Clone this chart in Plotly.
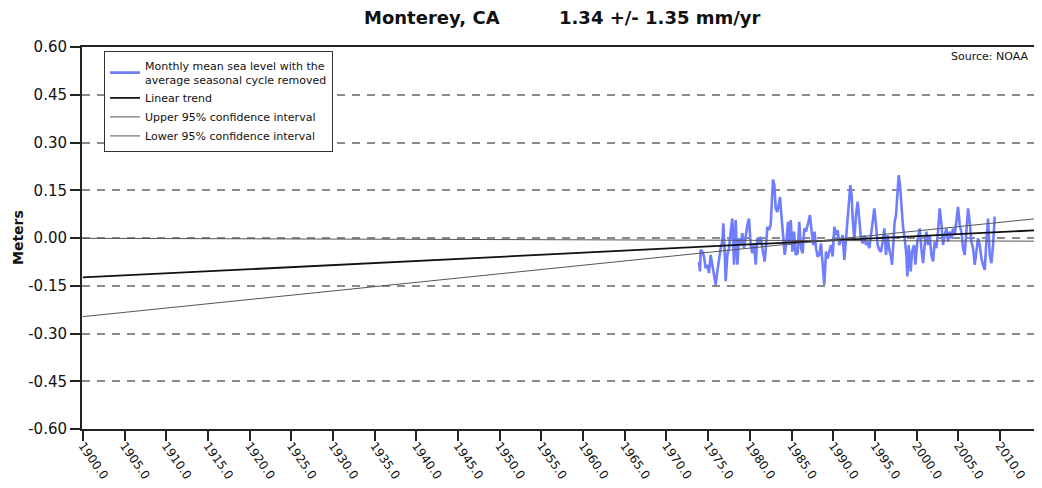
import plotly.graph_objects as go

# ---- data ----
years = [1973.90, 1974.02, 1974.10, 1974.30, 1974.50, 1974.70, 1974.90, 1975.10, 1975.30, 1975.50,
         1975.70, 1975.90, 1976.10, 1976.30, 1976.50, 1976.70, 1976.82, 1976.98, 1977.10, 1977.30,
         1977.50, 1977.70, 1977.90, 1978.10, 1978.30, 1978.50, 1978.70, 1978.90, 1979.10, 1979.30,
         1979.50, 1979.70, 1979.90, 1980.10, 1980.30, 1980.50, 1980.70, 1980.90, 1981.10, 1981.30,
         1981.50, 1981.78, 1981.94, 1982.10, 1982.30, 1982.50, 1982.66, 1982.78, 1982.94, 1983.10,
         1983.30, 1983.46, 1983.62, 1983.78, 1983.90, 1984.02, 1984.18, 1984.34, 1984.58, 1984.74,
         1984.90, 1985.10, 1985.30, 1985.50, 1985.73, 1985.93, 1986.13, 1986.33, 1986.53, 1986.73,
         1986.93, 1987.21, 1987.41, 1987.61, 1987.77, 1987.93, 1988.13, 1988.33, 1988.53, 1988.73,
         1988.93, 1989.13, 1989.33, 1989.53, 1989.73, 1989.93, 1990.13, 1990.33, 1990.53, 1990.73,
         1990.93, 1991.13, 1991.33, 1991.53, 1991.73, 1991.93, 1992.05, 1992.21, 1992.33, 1992.53,
         1992.73, 1992.93, 1993.13, 1993.33, 1993.53, 1993.73, 1993.93, 1994.13, 1994.33, 1994.53,
         1994.73, 1994.93, 1995.13, 1995.33, 1995.53, 1995.73, 1995.93, 1996.13, 1996.33, 1996.53,
         1996.73, 1996.93, 1997.05, 1997.21, 1997.37, 1997.53, 1997.69, 1997.85, 1998.01, 1998.17,
         1998.37, 1998.57, 1998.77, 1998.89, 1999.05, 1999.29, 1999.45, 1999.69, 1999.85, 2000.09,
         2000.37, 2000.57, 2000.77, 2000.97, 2001.17, 2001.37, 2001.57, 2001.77, 2001.97, 2002.17,
         2002.37, 2002.57, 2002.77, 2002.97, 2003.17, 2003.37, 2003.57, 2003.77, 2003.97, 2004.17,
         2004.37, 2004.57, 2004.77, 2004.97, 2005.17, 2005.37, 2005.57, 2005.77, 2005.97, 2006.17,
         2006.37, 2006.57, 2006.77, 2006.97, 2007.17, 2007.37, 2007.57, 2007.77, 2007.97, 2008.17,
         2008.37, 2008.57, 2008.77, 2008.97, 2009.17, 2009.37]

sea_level = [-0.074, -0.105, -0.037, -0.043, -0.058, -0.095, -0.084, -0.110, -0.053, -0.084,
             -0.116, -0.147, -0.105, -0.064, -0.032, -0.011, 0.046, -0.043, -0.136, -0.053,
             -0.032, 0.020, 0.061, -0.084, 0.056, -0.084, -0.001, -0.022, 0.015, -0.032,
             0.009, 0.041, 0.061, -0.022, -0.048, -0.017, -0.084, -0.001, -0.017, 0.004,
             -0.032, -0.074, -0.022, 0.035, 0.025, 0.041, 0.124, 0.184, 0.166, 0.093,
             0.082, 0.103, 0.129, 0.072, 0.020, -0.001, -0.053, -0.022, 0.051, -0.022,
             0.056, -0.043, 0.020, -0.053, -0.048, 0.051, -0.032, -0.048, 0.030, 0.020,
             0.041, 0.072, 0.020, -0.022, 0.020, -0.032, -0.058, -0.053, -0.017, -0.084,
             -0.147, -0.043, -0.064, -0.043, -0.022, -0.058, 0.035, 0.009, 0.025, -0.022,
             -0.006, 0.009, -0.069, -0.006, 0.061, 0.124, 0.166, 0.134, 0.061, -0.006,
             0.072, 0.114, 0.061, -0.001, -0.017, 0.009, -0.022, -0.011, -0.032, 0.009,
             0.051, 0.093, 0.041, -0.022, -0.038, -0.043, -0.011, 0.030, -0.053, 0.009,
             -0.038, -0.058, -0.084, -0.011, 0.051, 0.072, 0.145, 0.197, 0.166, 0.093,
             0.035, -0.001, -0.053, -0.121, -0.022, -0.105, -0.043, -0.022, -0.084, -0.011,
             0.030, -0.032, -0.079, -0.022, 0.020, -0.022, 0.009, -0.053, -0.074, -0.011,
             -0.032, 0.020, 0.093, 0.046, -0.022, 0.009, 0.030, -0.011, 0.020, -0.001,
             0.030, 0.009, 0.061, 0.098, 0.041, 0.020, -0.032, -0.053, 0.020, 0.093,
             0.051, -0.011, -0.032, -0.084, -0.043, -0.001, -0.022, -0.064, -0.084, -0.100,
             -0.011, 0.061, -0.053, -0.079, -0.022, 0.067]

line_years = [1900.0, 2014.8]
trend = [-0.124, 0.025]
upper_ci = [-0.247, 0.062]
lower_ci = [-0.001, -0.010]

y_ticks = [-0.60, -0.45, -0.30, -0.15, 0.00, 0.15, 0.30, 0.45, 0.60]
y_tick_labels = ["-0.60", "-0.45", "-0.30", "-0.15", "0.00", "0.15", "0.30", "0.45", "0.60"]
x_ticks = list(range(1900, 2011, 5))
x_tick_labels = [f"{v}.0" for v in x_ticks]

FONT = "DejaVu Sans"

fig = go.Figure()
fig.add_trace(go.Scatter(
    x=years, y=sea_level, mode="lines",
    line=dict(color="#6f7dff", width=2.6),
    name="Monthly mean sea level with the<br>average seasonal cycle removed"))
fig.add_trace(go.Scatter(x=line_years, y=trend, mode="lines",
                         line=dict(color="#111111", width=1.8), name="Linear trend"))
fig.add_trace(go.Scatter(x=line_years, y=upper_ci, mode="lines",
                         line=dict(color="#555555", width=1), name="Upper 95% confidence interval"))
fig.add_trace(go.Scatter(x=line_years, y=lower_ci, mode="lines",
                         line=dict(color="#555555", width=1), name="Lower 95% confidence interval"))

# The page body has an 8px margin, so the figure is sized to fit the window.
fig.update_layout(
    width=1034, height=480,
    margin=dict(l=74, r=2, t=39, b=59),
    paper_bgcolor="white", plot_bgcolor="white",
    font=dict(family=FONT, color="#111111"),
    showlegend=True,
    legend=dict(x=0.023, y=0.99, xanchor="left", yanchor="top",
                bgcolor="white", bordercolor="#333333", borderwidth=1,
                font=dict(family=FONT, size=11, color="#111111"),
                itemwidth=30, tracegroupgap=0),
    xaxis=dict(range=[1899.9, 2014.8], tickmode="array", tickvals=x_ticks, ticktext=x_tick_labels,
               tickangle=55, ticks="outside", ticklen=10, tickwidth=1.5, tickcolor="#222222",
               tickfont=dict(family=FONT, size=12, color="#111111"), ticklabelstandoff=-7,
               showgrid=False, zeroline=False, showline=True, linecolor="#222222", linewidth=2,
               mirror=True, automargin=False),
    yaxis=dict(range=[-0.6, 0.6], tickmode="array", tickvals=y_ticks, ticktext=y_tick_labels,
               ticks="outside", ticklen=10, tickwidth=1.5, tickcolor="#222222",
               tickfont=dict(family=FONT, size=15, color="#111111"),
               showgrid=True, gridcolor="#8a8a8a", gridwidth=1.5, griddash="8px,7px",
               zeroline=False, showline=True, linecolor="#222222", linewidth=2, mirror=True,
               automargin=False),
)

fig.add_annotation(text="<b>Monterey, CA</b>", xref="paper", yref="paper",
                   x=(362 - 82) / 958, y=1 + 29 / 382, xanchor="left", yanchor="middle",
                   showarrow=False, font=dict(family=FONT, size=18, color="#111111"))
fig.add_annotation(text="<b>1.34 +/- 1.35 mm/yr</b>", xref="paper", yref="paper",
                   x=(557 - 82) / 958, y=1 + 29 / 382, xanchor="left", yanchor="middle",
                   showarrow=False, font=dict(family=FONT, size=18, color="#111111"))
fig.add_annotation(text="<b>Meters</b>", xref="paper", yref="paper",
                   x=(18 - 82) / 958, y=0.5, textangle=-90, xanchor="center", yanchor="middle",
                   showarrow=False, font=dict(family=FONT, size=14, color="#111111"))
fig.add_annotation(text="Source: NOAA", xref="paper", yref="paper",
                   x=(1031 - 82) / 958, y=1 - 10 / 382, xanchor="right", yanchor="middle",
                   showarrow=False, font=dict(family=FONT, size=11, color="#111111"))

fig.write_html("out.html")
